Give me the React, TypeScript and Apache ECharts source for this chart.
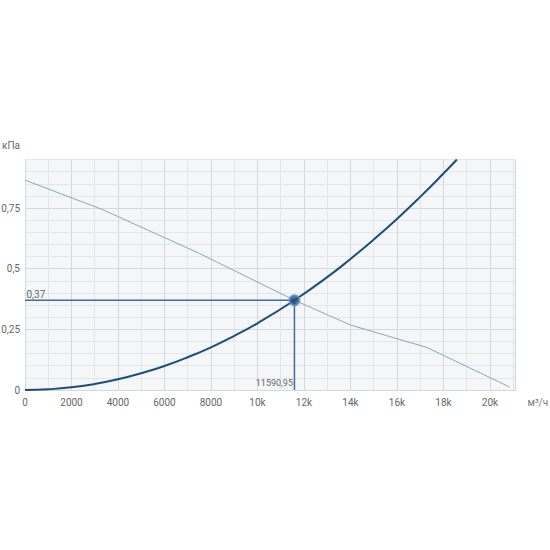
import React, { useEffect, useRef } from "react";
import * as echarts from "echarts";

const fanCurve: [number, number][] = [
  [0, 0.865],
  [3300, 0.745],
  [7500, 0.563],
  [11591, 0.37],
  [14000, 0.268],
  [17300, 0.175],
  [20850, 0.012],
];

const systemCurve: [number, number][] = [
  [0, 0],
  [1000, 0.003],
  [2000, 0.011],
  [3000, 0.025],
  [4000, 0.044],
  [5000, 0.069],
  [6000, 0.099],
  [7000, 0.135],
  [8000, 0.176],
  [9000, 0.223],
  [10000, 0.275],
  [11591, 0.37],
  [13000, 0.465],
  [14000, 0.54],
  [15000, 0.62],
  [16000, 0.705],
  [17000, 0.796],
  [18000, 0.892],
  [18580, 0.95],
];

const workPoint: [number, number] = [11590.95, 0.37];
const workLabelX = "11590,95";
const workLabelY = "0,37";

const xMax = 21100;
const yMax = 0.95;

export default function App() {
  const ref = useRef<HTMLDivElement>(null);
  useEffect(() => {
    if (!ref.current) return;
    const chart = echarts.init(ref.current, undefined, { renderer: "svg" });
    const font = "Roboto, sans-serif";
    const major = "#d3d8df";
    const minor = "#e3e6eb";
    chart.setOption({
      animation: false,
      textStyle: { fontFamily: font },
      grid: {
        left: 25,
        right: 34.5,
        top: 159.5,
        bottom: 160,
        containLabel: false,
        outerBoundsMode: "none",
        show: true,
        backgroundColor: "#f5f6f8",
        borderWidth: 0,
      },
      xAxis: {
        type: "value",
        min: 0,
        max: xMax,
        interval: 1000,
        name: "м³/ч",
        nameLocation: "end",
        nameGap: 12,
        nameTextStyle: { color: "#777", fontSize: 10, fontFamily: font, verticalAlign: "top", padding: [7, 0, 0, 0] },
        axisLine: { show: false },
        axisTick: { show: false },
        axisLabel: {
          color: "#666",
          fontSize: 10,
          fontFamily: font,
          margin: 7,
          showMaxLabel: false,
          formatter: (v: number) => {
            if (v % 2000 !== 0) return "";
            return v >= 10000 ? v / 1000 + "k" : String(v);
          },
        },
        splitLine: { show: true, lineStyle: { color: [major, minor], width: 1 } },
      },
      yAxis: {
        type: "value",
        min: 0,
        max: yMax,
        interval: 0.05,
        name: "кПа",
        nameLocation: "end",
        nameGap: 9,
        nameTextStyle: { color: "#666", fontSize: 10, fontFamily: font, align: "right", padding: [0, 5, 0, 0] },
        axisLine: { show: false },
        axisTick: { show: false },
        axisLabel: {
          color: "#666",
          fontSize: 10,
          fontFamily: font,
          margin: 5,
          formatter: (v: number) => {
            const q = v / 0.25;
            if (Math.abs(q - Math.round(q)) > 1e-6) return "";
            return String(Math.round(v * 100) / 100).replace(".", ",");
          },
        },
        splitLine: { show: true, lineStyle: { color: [major, minor, minor, minor, minor], width: 1 } },
      },
      series: [
        {
          type: "line",
          data: fanCurve,
          symbol: "none",
          lineStyle: { color: "#8ca5bf", width: 1 },
          z: 2,
        },
        {
          type: "line",
          data: systemCurve,
          symbol: "none",
          smooth: true,
          lineStyle: { color: "#1d4d7a", width: 2 },
          z: 3,
        },
        {
          type: "line",
          data: [
            {
              value: [0, workPoint[1]],
              label: {
                show: true,
                formatter: workLabelY,
                position: [2, -10],
                color: "#666",
                fontSize: 10,
                fontFamily: font,
              },
            },
            { value: workPoint },
            {
              value: [workPoint[0], 0],
              label: {
                show: true,
                formatter: workLabelX,
                position: [-1, -11],
                align: "right",
                color: "#666",
                fontSize: 9,
                fontFamily: font,
              },
            },
          ],
          symbol: "circle",
          symbolSize: 1,
          showSymbol: true,
          itemStyle: { color: "rgba(0,0,0,0)", borderWidth: 0 },
          lineStyle: { color: "#3f6f9f", width: 1.5 },
          z: 4,
        },
        {
          type: "scatter",
          data: [workPoint],
          symbol: "circle",
          symbolSize: 10,
          itemStyle: { color: "#1d4d7a", borderColor: "#5f8fc2", borderWidth: 2 },
          z: 5,
        },
      ],
    });
    return () => chart.dispose();
  }, []);
  return (
    <div
      ref={ref}
      style={{ position: "absolute", left: 0, top: 0, width: 550, height: 550 }}
    />
  );
}
